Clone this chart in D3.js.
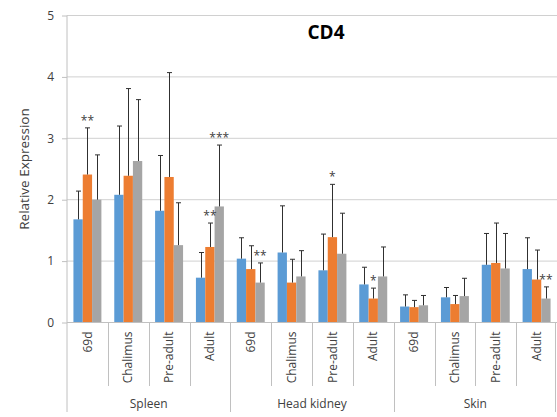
<!DOCTYPE html>
<html>
<head>
<meta charset="utf-8">
<script src="https://cdn.jsdelivr.net/npm/d3@7"></script>
<style>
  html, body { margin: 0; padding: 0; background: #fff; }
  svg { display: block; font-family: "Open Sans", "Liberation Sans", sans-serif; }
</style>
</head>
<body>
<svg id="chart" width="557" height="417"></svg>
<script>
const groups = ["Spleen", "Head kidney", "Skin"];
const stages = ["69d", "Chalimus", "Pre-adult", "Adult"];
const seriesNames = ["s1", "s2", "s3"];
const seriesColors = ["#5B9BD5", "#ED7D31", "#A5A5A5"];

const blueValues   = [1.68, 2.08, 1.82, 0.73, 1.04, 1.14, 0.85, 0.62, 0.26, 0.41, 0.94, 0.87];
const blueErrors   = [0.46, 1.12, 0.90, 0.41, 0.34, 0.76, 0.59, 0.28, 0.19, 0.16, 0.51, 0.51];
const orangeValues = [2.41, 2.39, 2.37, 1.23, 0.87, 0.65, 1.39, 0.39, 0.25, 0.30, 0.97, 0.70];
const orangeErrors = [0.76, 1.42, 1.70, 0.39, 0.38, 0.38, 0.86, 0.17, 0.11, 0.14, 0.65, 0.48];
const grayValues   = [2.00, 2.63, 1.26, 1.89, 0.65, 0.75, 1.12, 0.75, 0.28, 0.43, 0.88, 0.39];
const grayErrors   = [0.73, 1.00, 0.69, 1.00, 0.32, 0.42, 0.66, 0.48, 0.16, 0.29, 0.57, 0.19];

const yTicks = [0, 1, 2, 3, 4, 5];
// significance marks: category index, series index, label
const sigCats   = [0, 3, 3, 4, 6, 7, 11];
const sigSeries = [1, 1, 2, 2, 1, 1, 2];
const sigLabels = ["**", "**", "***", "**", "*", "*", "**"];

(function () {
const values = [blueValues, orangeValues, grayValues];
const errors = [blueErrors, orangeErrors, grayErrors];

const svg = d3.select("#chart");
const pLeft = 67, pRight = 557, pTop = 15.5, pBottom = 322.5;
const textColor = "#404040";
const lineColor = "#c0c0c0";

const cats = [];
groups.forEach(g => stages.forEach(s => cats.push(g + "|" + s)));

const x = d3.scaleBand().domain(cats).range([pLeft, pRight]).padding(0);
const xs = d3.scaleBand().domain(seriesNames).range([0, x.bandwidth()]).paddingInner(0).paddingOuter(0.69);
const y = d3.scaleLinear().domain([0, 5]).range([pBottom, pTop]);

// gridlines
svg.append("g").selectAll("line").data(yTicks.filter(t => t > 0)).join("line")
  .attr("x1", pLeft).attr("x2", pRight)
  .attr("y1", d => y(d)).attr("y2", d => y(d))
  .attr("stroke", "#d0d0d0").attr("stroke-width", 1);

// y axis
const yAxis = d3.axisLeft(y).tickValues(yTicks).tickSize(5).tickPadding(8).tickFormat(d3.format("d"));
const ya = svg.append("g").attr("transform", `translate(${pLeft},0)`).call(yAxis);
ya.select(".domain").remove();
ya.selectAll(".tick line").attr("stroke", lineColor);
ya.selectAll(".tick text").attr("fill", textColor).style("font-size", "12px")
  .style("font-family", "'Open Sans', sans-serif");

// left axis line extended to bottom
svg.append("line").attr("x1", pLeft).attr("x2", pLeft).attr("y1", pTop).attr("y2", 412)
  .attr("stroke", lineColor);

// bars
seriesNames.forEach((sn, si) => {
  svg.append("g").selectAll("rect").data(cats).join("rect")
    .attr("x", c => x(c) + xs(sn))
    .attr("width", xs.bandwidth())
    .attr("y", (c, i) => y(values[si][i]))
    .attr("height", (c, i) => y(0) - y(values[si][i]))
    .attr("fill", seriesColors[si]);
});

// error bars
seriesNames.forEach((sn, si) => {
  const g = svg.append("g").attr("stroke", "#303030").attr("stroke-width", 1);
  cats.forEach((c, i) => {
    const cx = Math.round(x(c) + xs(sn) + xs.bandwidth() / 2) + 0.5;
    const v = values[si][i], e = errors[si][i];
    g.append("line").attr("x1", cx).attr("x2", cx).attr("y1", y(v)).attr("y2", y(v + e));
    g.append("line").attr("x1", cx - 2.5).attr("x2", cx + 2.5).attr("y1", y(v + e)).attr("y2", y(v + e));
  });
});

// bottom axis line
svg.append("line").attr("x1", pLeft).attr("x2", pRight).attr("y1", pBottom).attr("y2", pBottom)
  .attr("stroke", lineColor);

// category separators
cats.forEach((c, i) => {
  if (i === 0) return;
  const xx = Math.round(x(c)) + 0.5;
  const isGroup = i % stages.length === 0;
  svg.append("line").attr("x1", xx).attr("x2", xx).attr("y1", pBottom).attr("y2", isGroup ? 412 : 386)
    .attr("stroke", lineColor);
});
svg.append("line").attr("x1", pRight - 1.5).attr("x2", pRight - 1.5).attr("y1", pBottom).attr("y2", 412)
  .attr("stroke", lineColor);

// category labels
svg.append("g").selectAll("text").data(cats).join("text")
  .attr("transform", c => `translate(${x(c) + x.bandwidth() / 2},${pBottom + 9}) rotate(-90)`)
  .attr("text-anchor", "end").attr("dy", "0.35em")
  .attr("fill", textColor).style("font-size", "12px")
  .text(c => c.split("|")[1]);

// group labels
groups.forEach((g) => {
  const x0 = x(g + "|" + stages[0]);
  const x1 = x(g + "|" + stages[stages.length - 1]) + x.bandwidth();
  svg.append("text").attr("x", (x0 + x1) / 2).attr("y", 408)
    .attr("text-anchor", "middle").attr("fill", textColor).style("font-size", "12px").text(g);
});

// significance marks
sigCats.forEach((ci, k) => {
  const si = sigSeries[k];
  const c = cats[ci];
  const cx = x(c) + xs(seriesNames[si]) + xs.bandwidth() / 2;
  svg.append("text").attr("x", cx).attr("y", y(values[si][ci] + errors[si][ci]) - 3)
    .attr("text-anchor", "middle").attr("fill", textColor).style("font-size", "12px")
    .text(sigLabels[k]);
});

// y title
svg.append("text").attr("transform", `translate(29,${(pTop + pBottom) / 2}) rotate(-90)`)
  .attr("text-anchor", "middle").attr("fill", textColor).style("font-size", "13.5px")
  .text("Relative Expression");

// chart title
svg.append("text").attr("x", 326).attr("y", 39).attr("text-anchor", "middle")
  .attr("fill", "#000").style("font-size", "19px").style("font-weight", "bold").text("CD4");
})();
</script>
</body>
</html>
